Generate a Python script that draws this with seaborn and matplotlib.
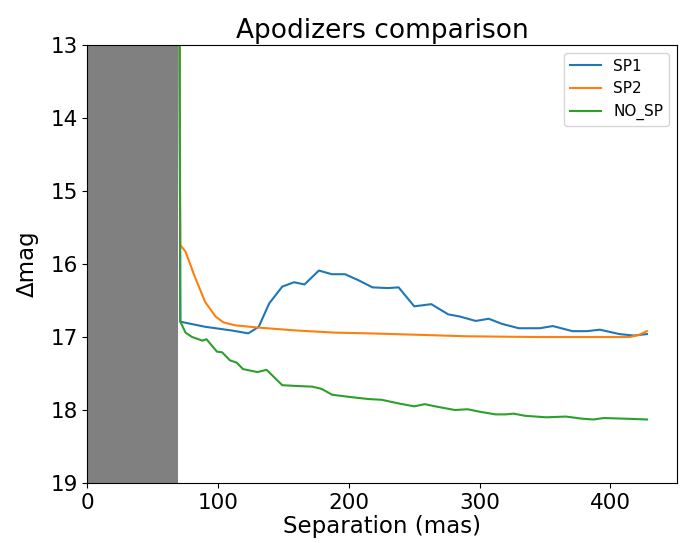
import numpy as np
import pandas as pd
import matplotlib.pyplot as plt
import seaborn as sns
from matplotlib.ticker import MultipleLocator

# values
sep_sp1 = [70, 71, 90, 110, 123, 131, 139, 149, 158, 166, 177, 187, 197, 207, 218, 230, 238,
           250, 263, 276, 285, 297, 307, 317, 330, 346, 356, 371, 382, 392, 407, 418, 428]
mag_sp1 = [10.0, 16.79, 16.86, 16.91, 16.95, 16.86, 16.54, 16.31, 16.25, 16.28, 16.09, 16.14, 16.14, 16.22, 16.32, 16.33, 16.32,
           16.58, 16.55, 16.69, 16.72, 16.78, 16.75, 16.82, 16.88, 16.88, 16.85, 16.92, 16.92, 16.90, 16.96, 16.98, 16.96]

sep_sp2 = [70, 71, 75, 82, 90, 98, 104, 113, 130, 159, 189, 215, 253, 290, 341, 392, 415, 422, 428]
mag_sp2 = [10.0, 15.74, 15.83, 16.17, 16.52, 16.72, 16.80, 16.84, 16.87, 16.91, 16.94, 16.95, 16.97, 16.99, 17.0, 17.0, 17.0, 16.97, 16.92]

sep_nosp = [70, 71, 75, 80, 88, 91, 99, 103, 109, 114, 119, 130, 137, 149, 159, 172, 179, 187, 200, 215,
            225, 238, 250, 258, 266, 281, 291, 299, 312, 320, 326, 335, 351, 366, 379, 387, 395, 413, 428]
mag_nosp = [10.0, 16.79, 16.94, 17.0, 17.05, 17.03, 17.2, 17.21, 17.32, 17.35, 17.44, 17.48, 17.45, 17.66, 17.67, 17.68, 17.71, 17.79, 17.82, 17.85,
            17.86, 17.91, 17.95, 17.92, 17.95, 18.0, 17.99, 18.02, 18.06, 18.06, 18.05, 18.08, 18.1, 18.09, 18.12, 18.13, 18.11, 18.12, 18.13]

iwa = 69  # inner working angle mask (mas)

df = pd.concat([
    pd.DataFrame({'sep': sep_sp1, 'mag': mag_sp1, 'apod': 'SP1'}),
    pd.DataFrame({'sep': sep_sp2, 'mag': mag_sp2, 'apod': 'SP2'}),
    pd.DataFrame({'sep': sep_nosp, 'mag': mag_nosp, 'apod': 'NO_SP'}),
])

fig, ax = plt.subplots(figsize=(6.8, 5.43), dpi=100)
fig.subplots_adjust(left=87.5 / 680, right=677 / 680, top=1 - 45 / 543, bottom=1 - 483 / 543)

ax.axvspan(0, iwa, color='grey', lw=0)
sns.lineplot(data=df, x='sep', y='mag', hue='apod', sort=False, ax=ax, lw=1.5)

ax.set_xlim(0, 451)
ax.set_ylim(19, 13)
ax.xaxis.set_major_locator(MultipleLocator(100))
ax.set_title("Apodizers comparison", fontsize=19, pad=5)
ax.set_xlabel("Separation (mas)", fontsize=16.5, labelpad=2)
ax.set_ylabel("Δmag", fontsize=16.5, labelpad=8)
ax.tick_params(labelsize=15.5)
ax.legend(loc='upper right', fontsize=11)

plt.savefig("out.png", dpi=100)
plt.close()
